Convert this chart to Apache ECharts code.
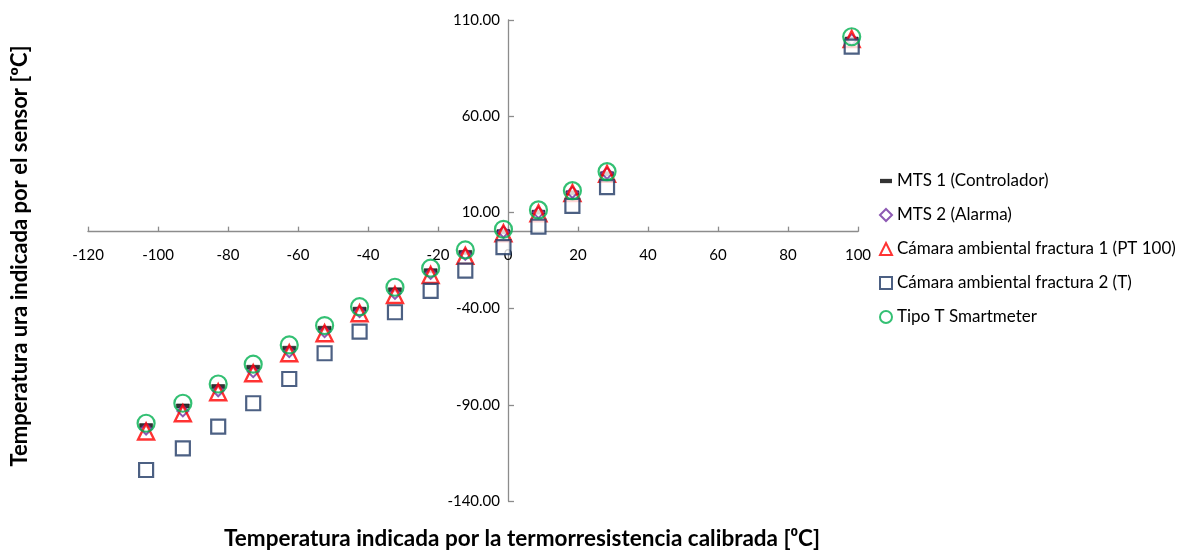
<!DOCTYPE html>
<html>
<head>
<meta charset="utf-8">
<script src="https://cdn.jsdelivr.net/npm/echarts@6/dist/echarts.min.js"></script>
<style>
html,body{margin:0;padding:0;background:#fff;}
#chart{width:1185px;height:551px;}
</style>
</head>
<body>
<div id="chart"></div>
<script>
// Calibrated resistance temperature (x)
const xValues = [-103.4, -92.9, -82.8, -72.8, -62.5, -52.4, -42.4, -32.3, -22.1, -12.2, -1.3, 8.7, 18.4, 28.3, 98.2];
// Sensor readings (y)
const mts1 = [-100.8, -90.6, -80.5, -70.5, -60.6, -50.2, -40.3, -30.2, -20.3, -10.8, 0.0, 10.1, 20.2, 30.1, 100.1];
const mts2 = [-102.6, -93.2, -82.7, -72.8, -62.4, -52.0, -41.6, -32.1, -21.7, -11.8, -0.2, 9.9, 20.4, 30.3, 99.8];
const camara1 = [-103.9, -94.4, -83.5, -73.6, -63.2, -52.8, -42.4, -32.9, -22.5, -12.6, -0.8, 9.5, 20.0, 30.0, 100.1];
const camara2 = [-123.9, -112.6, -101.3, -89.2, -76.6, -63.2, -52.0, -41.9, -30.8, -20.3, -8.1, 2.6, 13.4, 23.1, 96.2];
const tipoT = [-99.6, -89.2, -79.2, -68.9, -58.9, -48.8, -39.0, -28.9, -19.0, -9.5, 1.2, 11.3, 21.3, 31.2, 101.3];

const seriesNames = ['MTS 1 (Controlador)', 'MTS 2 (Alarma)', 'Cámara ambiental fractura 1 (PT 100)', 'Cámara ambiental fractura 2 (T)', 'Tipo T Smartmeter'];
const xTitle = 'Temperatura indicada por la termorresistencia calibrada [\u2070C]';
const yTitle = 'Temperatura ura indicada por el sensor [ºC]';

const X_MIN = -120, X_MAX = 100, Y_MIN = -140, Y_MAX = 110;

function pairs(ys){ return xValues.map((x,i)=>[x, ys[i]]); }

const W = 1185, H = 551;
const G = {left: 88, right: 327, top: 20, bottom: 50};
const gw = W - G.left - G.right, gh = H - G.top - G.bottom;
// axes cross at zero: shift axes inward from grid edges
const xAxisOffset = -gh * (0 - Y_MIN) / (Y_MAX - Y_MIN);
const yAxisOffset = -gw * (0 - X_MIN) / (X_MAX - X_MIN);

const FONT = 'Lato, "Open Sans", sans-serif';
const AX = '#8c8c8c';
const chart = echarts.init(document.getElementById('chart'));
chart.setOption({
  animation: false,
  backgroundColor: '#fff',
  grid: {left: G.left, right: G.right, top: G.top, bottom: G.bottom, containLabel: false},
  xAxis: {
    type: 'value', min: X_MIN, max: X_MAX, interval: 20, position: 'bottom', offset: xAxisOffset,
    axisLine: {onZero: false, lineStyle: {color: AX, width: 1.3}},
    axisTick: {inside: true, length: 5, lineStyle: {color: AX, width: 1.3}},
    axisLabel: {margin: 16, color: '#000', fontSize: 15, fontFamily: FONT},
    splitLine: {show: false}
  },
  yAxis: {
    type: 'value', min: Y_MIN, max: Y_MAX, interval: 50, position: 'left', offset: yAxisOffset,
    axisLine: {onZero: false, lineStyle: {color: AX, width: 1.3}},
    axisTick: {inside: true, length: 6, lineStyle: {color: AX, width: 1.3}},
    axisLabel: {margin: 8, color: '#000', fontSize: 15, fontFamily: FONT, formatter: v => v.toFixed(2)},
    splitLine: {show: false}
  },
  legend: {
    orient: 'vertical', left: 874, top: 167, itemGap: 16, itemWidth: 12, itemHeight: 12,
    textStyle: {fontSize: 17, fontFamily: FONT, color: '#000', lineHeight: 18},
    data: [
      {name: seriesNames[0], icon: 'path://M0,0 H14 V5 H0 Z', itemStyle: {color: '#000', borderColor: '#000', borderWidth: 0}},
      {name: seriesNames[1]},
      {name: seriesNames[2]},
      {name: seriesNames[3]},
      {name: seriesNames[4]}
    ]
  },
  graphic: [
    {type: 'text', x: 522, y: 527, style: {text: xTitle, font: 'bold 22.5px ' + FONT, fill: '#000', align: 'center', verticalAlign: 'top'}},
    {type: 'text', x: 9, y: 256, rotation: Math.PI/2, style: {text: yTitle, font: 'bold 22px ' + FONT, fill: '#000', align: 'center', verticalAlign: 'top'}}
  ],
  series: [
    {name: seriesNames[0], type: 'scatter', data: pairs(mts1), symbol: 'rect', symbolSize: [13, 4],
     itemStyle: {color: '#000', borderColor: '#000', borderWidth: 0.5}},
    {name: seriesNames[1], type: 'scatter', data: pairs(mts2), symbol: 'diamond', symbolSize: 11,
     itemStyle: {color: '#fff', borderColor: '#7030a0', borderWidth: 2}},
    {name: seriesNames[2], type: 'scatter', data: pairs(camara1), symbol: 'triangle', symbolSize: 16,
     itemStyle: {color: 'rgba(255,255,255,0)', borderColor: '#ff0000', borderWidth: 2.4}},
    {name: seriesNames[3], type: 'scatter', data: pairs(camara2), symbol: 'rect', symbolSize: 14,
     itemStyle: {color: '#fff', borderColor: '#1f3864', borderWidth: 2.2}},
    {name: seriesNames[4], type: 'scatter', data: pairs(tipoT), symbol: 'circle', symbolSize: 17,
     itemStyle: {color: 'rgba(255,255,255,0)', borderColor: '#00b050', borderWidth: 2.2}}
  ]
});
</script>
</body>
</html>
